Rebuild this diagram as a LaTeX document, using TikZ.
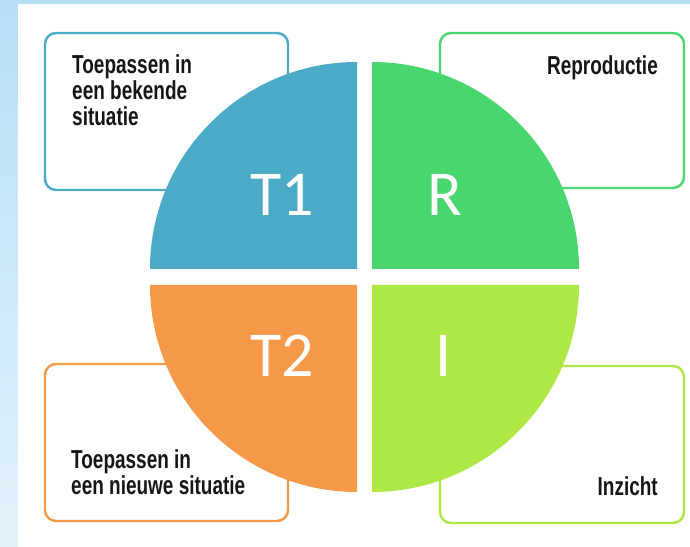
\documentclass[tikz,border=0pt]{standalone}
\usepackage{fontspec}
\newfontfamily\labfont[FakeStretch=0.73]{Liberation Sans}
\newfontfamily\bigfont{Carlito}
\definecolor{bgblue}{HTML}{B6DFF6}
\definecolor{bgblueb}{HTML}{E2F2FB}
\definecolor{qblue}{HTML}{4BAAC6}
\definecolor{qgreen}{HTML}{4AD66F}
\definecolor{qorange}{HTML}{F59848}
\definecolor{qlime}{HTML}{AEE845}
\definecolor{txt}{HTML}{161616}
\tikzset{
  framebox/.style={line width=2.4pt, rounded corners=11pt, fill=white},
  lab/.style={inner sep=0pt, text=txt, font=\labfont\bfseries\fontsize{26}{26}\selectfont, align=left},
  labr/.style={lab, align=right},
  big/.style={inner sep=0pt, text=white, font=\bigfont\fontsize{64}{64}\selectfont, anchor=base}
}
\begin{document}
\begin{tikzpicture}[x=1pt,y=1pt]
\useasboundingbox (0,0) rectangle (690,546);
% background
\fill[bgblue] (0,0) rectangle (690,546);
\shade[top color=bgblue, bottom color=bgblueb] (0,0) rectangle (18,546);
\fill[white] (18,0) rectangle (690,542);
% boxes
\draw[framebox, draw=qblue] (45,356) rectangle (288,513);
\draw[framebox, draw=qgreen] (440,358) rectangle (684,513);
\draw[framebox, draw=qorange] (45,25) rectangle (288,182);
\draw[framebox, draw=qlime] (440,23) rectangle (684,180);
% quadrants
\fill[qblue] (357,277) -- ++(0,207) arc[start angle=90, end angle=180, radius=207] -- cycle;
\fill[qgreen] (372,277) -- ++(207,0) arc[start angle=0, end angle=90, radius=207] -- cycle;
\fill[qorange] (357,261) -- ++(-207,0) arc[start angle=180, end angle=270, radius=207] -- cycle;
\fill[qlime] (372,261) -- ++(0,-207) arc[start angle=270, end angle=360, radius=207] -- cycle;
% big letters
\node[big] (t1) at (282,330) {T1};
\node[big] (r) at (445,330) {R};
\node[big] (t2) at (282,169) {T2};
\node[big] (i) at (444,169) {I};
% labels
\node[lab, anchor=north west] (lt1) at (72,492) {Toepassen in\\een bekende\\situatie};
\node[labr, anchor=north east] (lr) at (658,491) {Reproductie};
\node[lab, anchor=north west] (lt2) at (71,97) {Toepassen in\\een nieuwe situatie};
\node[labr, anchor=north east] (li) at (658,70) {Inzicht};
\end{tikzpicture}
\end{document}
